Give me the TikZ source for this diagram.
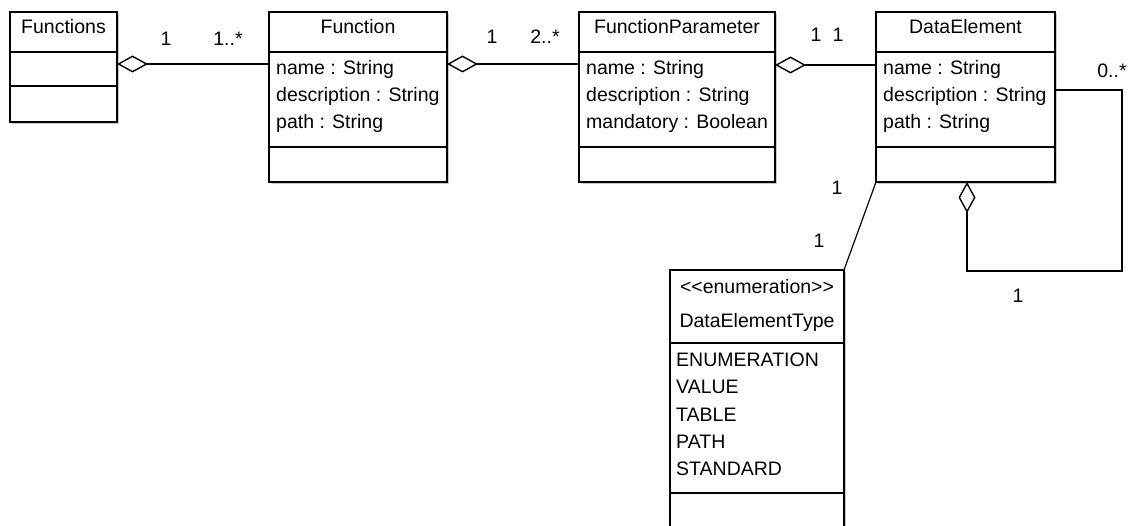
\documentclass[tikz,border=0pt]{standalone}
\usepackage{fontspec}
\setmainfont{Liberation Sans}
\usetikzlibrary{arrows.meta,shadows,calc}

\begin{document}
\begin{tikzpicture}[x=1pt,y=-1pt,
  line/.style={line width=1.4pt, draw=black},
  classbox/.style={line, fill=white, inner sep=0pt, outer sep=0pt, anchor=north west,
    drop shadow={shadow xshift=2pt, shadow yshift=-2pt, fill=black, opacity=0.22}},
  lbl/.style={inner sep=0pt, font=\fontsize{19.5}{23}\selectfont},
  attr/.style={lbl, anchor=base west},
  head/.style={lbl, anchor=base},
  mult/.style={lbl, anchor=base},
  agg/.style={line, {Diamond[open, length=31pt, width=17pt, line width=1.4pt, fill=white]}-},
]
\useasboundingbox (0,0) rectangle (1129,526);
\clip (0,0) rectangle (1129,526);

% ---------- class boxes ----------
\node[classbox, minimum width=107pt, minimum height=110pt] (fs) at (10,12) {};
\node[classbox, minimum width=178pt, minimum height=170pt] (fn) at (269,12) {};
\node[classbox, minimum width=196pt, minimum height=170pt] (fp) at (579,12) {};
\node[classbox, minimum width=179pt, minimum height=170pt] (de) at (876,12) {};
\node[classbox, minimum width=174pt, minimum height=270pt] (dt) at (670,270) {};

% compartment dividers
\draw[line] ([yshift=-40pt]fs.north west) -- ([yshift=-40pt]fs.north east);
\draw[line] ([yshift=-74pt]fs.north west) -- ([yshift=-74pt]fs.north east);
\foreach \b in {fn,fp,de}{
  \draw[line] ([yshift=-40pt]\b.north west) -- ([yshift=-40pt]\b.north east);
  \draw[line] ([yshift=-135pt]\b.north west) -- ([yshift=-135pt]\b.north east);
}
\draw[line] ([yshift=-73pt]dt.north west) -- ([yshift=-73pt]dt.north east);
\draw[line] ([yshift=-223pt]dt.north west) -- ([yshift=-223pt]dt.north east);

% ---------- class names ----------
\node[head] (fs-name) at (63.5,34) {Functions};
\node[head] (fn-name) at (358,34) {Function};
\node[head] (fp-name) at (677,34) {FunctionParameter};
\node[head] (de-name) at (965.5,34) {DataElement};
\node[head] (dt-st) at (757,294) {{<}\kern0pt{<}enumeration{>}\kern0pt{>}};
\node[head] (dt-name) at (757,327) {DataElementType};

% ---------- attributes ----------
\node[attr] (fn-a1) at (276,75) {name : String};
\node[attr] (fn-a2) at (276,102) {description : String};
\node[attr] (fn-a3) at (276,129) {path : String};

\node[attr] (fp-a1) at (586,75) {name : String};
\node[attr] (fp-a2) at (586,102) {description : String};
\node[attr] (fp-a3) at (586,129) {mandatory : Boolean};

\node[attr] (de-a1) at (883,75) {name : String};
\node[attr] (de-a2) at (883,102) {description : String};
\node[attr] (de-a3) at (883,129) {path : String};

\node[attr] (dt-l1) at (676,366) {ENUMERATION};
\node[attr] (dt-l2) at (676,393) {VALUE};
\node[attr] (dt-l3) at (676,421) {TABLE};
\node[attr] (dt-l4) at (676,448) {PATH};
\node[attr] (dt-l5) at (676,475) {STANDARD};

% ---------- aggregations ----------
\draw[agg] ([yshift=-52pt]fs.north east) -- ([yshift=-52pt]fn.north west);
\draw[agg] ([yshift=-52pt]fn.north east) -- ([yshift=-52pt]fp.north west);
\draw[agg] ([yshift=-53pt]fp.north east) -- ([yshift=-53pt]de.north west);

% self aggregation of DataElement
\coordinate (loop) at (1122,271);
\draw[agg] ([xshift=91pt]de.south west) |- (loop) |- ([yshift=-78pt]de.north east);

% association to the enumeration
\draw[line, line width=1.2pt] (de.south west) -- (dt.north east);

% ---------- multiplicities ----------
\node[mult] (m1) at (166,46) {1};
\node[mult] (m2) at (228,46) {1..*};
\node[mult] (m3) at (492,44) {1};
\node[mult] (m4) at (545,44) {2..*};
\node[mult] (m5) at (816,42) {1};
\node[mult] (m6) at (838,42) {1};
\node[mult] (m7) at (1112,78) {0..*};
\node[mult] (m8) at (1018,303) {1};
\node[mult] (m9) at (837,195) {1};
\node[mult] (m10) at (819,248) {1};
\end{tikzpicture}
\end{document}
